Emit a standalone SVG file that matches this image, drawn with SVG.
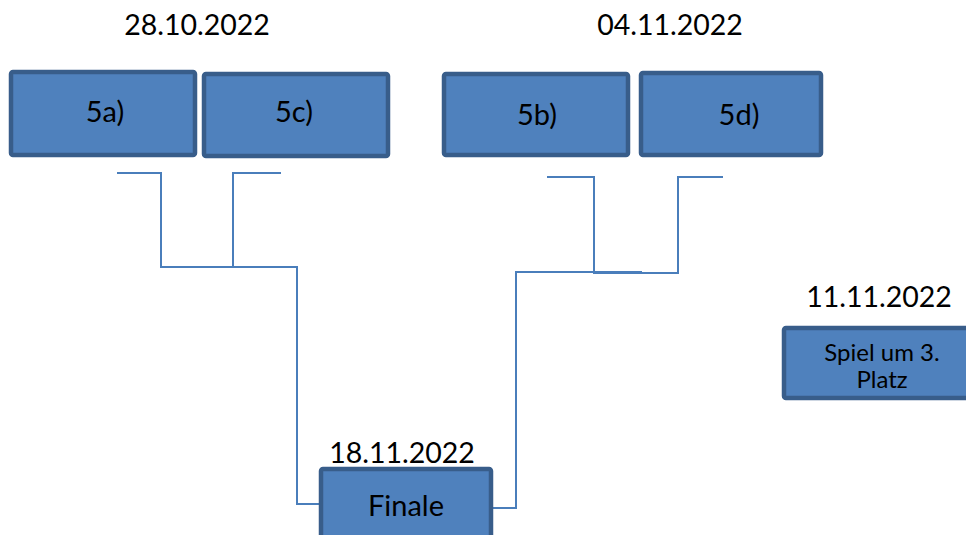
<svg xmlns="http://www.w3.org/2000/svg" width="966" height="535" viewBox="0 0 966 535">
<style>
.box{fill:#4f81bd;stroke:#385d8a;stroke-width:4.5}
.t{font-family:Lato,"Liberation Sans",sans-serif;fill:#000;text-anchor:middle}
.d{font-size:28.5px}
.l{font-size:29px}
.s{font-size:24px}
.c{fill:none;stroke:#4a7ebb;stroke-width:2}
</style>
<rect width="966" height="535" fill="#fff"/>
<text class="t d" x="197" y="35">28.10.2022</text>
<text class="t d" x="670" y="35">04.11.2022</text>
<text class="t d" x="879" y="307">11.11.2022</text>
<g id="connectors">
<polyline class="c" points="117,173 161,173 161,267 297,267 297,504 321,504"/>
<polyline class="c" points="281,173 233,173 233,267"/>
<polyline class="c" points="547,177 594,177 594,273 678,273 678,177 723,177"/>
<polyline class="c" points="642,272 516,272 516,508 491,508"/>
</g>
<g id="n5a"><rect class="box" x="11" y="72" width="184" height="83" rx="2"/><text class="t l" x="105" y="122">5a)</text></g>
<g id="n5c"><rect class="box" x="204" y="74" width="184" height="82" rx="2"/><text class="t l" x="294" y="122">5c)</text></g>
<g id="n5b"><rect class="box" x="444" y="74" width="184" height="81" rx="2"/><text class="t l" x="537" y="125">5b)</text></g>
<g id="n5d"><rect class="box" x="641" y="73" width="180" height="82" rx="2"/><text class="t l" x="739" y="125">5d)</text></g>
<g id="finale"><text class="t d" x="402" y="463">18.11.2022</text><rect class="box" x="321" y="469" width="170" height="80" rx="2"/><text class="t l" x="406" y="516">Finale</text></g>
<g id="spiel"><rect class="box" x="784" y="328" width="190" height="70" rx="2"/><text class="t s" x="882" y="361">Spiel um 3.</text><text class="t s" x="882" y="388">Platz</text></g>
</svg>
